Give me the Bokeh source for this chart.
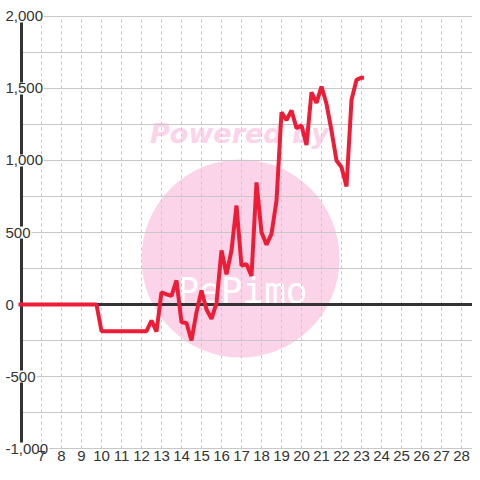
from bokeh.plotting import figure
from bokeh.models import Label, Range1d
from bokeh.core.properties import value
from bokeh.embed import file_html
from bokeh.resources import INLINE

# ---- data (day of month, cumulative value) ----
days = [5.85, 6.25, 6.5, 6.75, 7.0, 7.25, 7.5, 7.75, 8.0, 8.25, 8.5, 8.75,
        9.0, 9.25, 9.5, 9.75, 10.0, 10.25, 10.5, 10.75, 11.0, 11.25, 11.5, 11.75,
        12.0, 12.25, 12.5, 12.75, 13.0, 13.25, 13.5, 13.75, 14.0, 14.25, 14.5, 14.75,
        15.0, 15.25, 15.5, 15.75, 16.0, 16.25, 16.5, 16.75, 17.0, 17.25, 17.5, 17.75,
        18.0, 18.25, 18.5, 18.75, 19.0, 19.25, 19.5, 19.75, 20.0, 20.25, 20.5, 20.75,
        21.0, 21.25, 21.5, 21.75, 22.0, 22.25, 22.5, 22.75, 23.0, 23.125]
values = [0, 0, 0, 0, 0, 0, 0, 0, 0, 0, 0, 0,
          0, 0, 0, 0, -185, -185, -185, -185, -185, -185, -185, -185,
          -185, -185, -111, -188, 85, 70, 60, 167, -123, -128, -250, -55,
          97, -35, -100, 10, 375, 210, 375, 687, 270, 280, 198, 848,
          502, 415, 491, 720, 1335, 1280, 1347, 1225, 1243, 1108, 1474, 1400,
          1514, 1394, 1208, 1000, 953, 820, 1420, 1560, 1575, 1575]

x_ticks = [7, 8, 9, 10, 11, 12, 13, 14, 15, 16, 17, 18, 19, 20, 21, 22, 23, 24, 25, 26, 27, 28]
x_tick_labels = [str(t) for t in x_ticks]
y_label_values = [-1000, -500, 0, 500, 1000, 1500, 2000]
y_label_texts = ["-1,000", "-500", "0", "500", "1,000", "1,500", "2,000"]
y_grid_values = [-1000, -750, -500, -250, 0, 250, 500, 750, 1000, 1250, 1500, 1750, 2000]

X_MIN, X_MAX = 6, 28.55
Y_MIN, Y_MAX = -1000, 2000

TEXT = "#333333"
GRID = "#c8c8c8"
RED = "#ee1c36"
PINK = "#fbd4ea"
FONT = "Liberation Sans"

p = figure(width=472, height=464, output_backend="svg", toolbar_location=None,
           x_range=Range1d(4.95, 28.55), y_range=Range1d(-1111.11, 2111.11),
           x_axis_location=None, y_axis_location=None,
           min_border=0, min_border_left=0, min_border_right=0,
           min_border_top=0, min_border_bottom=0,
           background_fill_color="white", border_fill_color="white",
           outline_line_color=None)
p.grid.visible = False

# watermark (decorative, below grid)
p.circle(x=[16.95], y=[319], radius=99, radius_units="screen",
         fill_color=PINK, line_color=None, level="image")
p.text(x=[16.9], y=[1187], text=["Powered by"], text_font=value("DejaVu Sans"),
       text_font_style="bold italic", text_font_size="27px", text_color=PINK,
       text_align="center", text_baseline="middle", level="image")
p.text(x=[17.05], y=[100], text=["PePimo"], text_font=value("DejaVu Sans Mono"),
       text_font_size="36px", text_color="white",
       text_align="center", text_baseline="middle", level="image")

# grid lines
p.segment(x0=[X_MIN] * len(y_grid_values), y0=y_grid_values,
          x1=[X_MAX] * len(y_grid_values), y1=y_grid_values,
          line_color=GRID, line_width=1, level="underlay")
p.segment(x0=x_ticks, y0=[Y_MIN] * len(x_ticks), x1=x_ticks, y1=[Y_MAX] * len(x_ticks),
          line_color=GRID, line_width=1, line_dash="3 3", level="underlay")

# y axis line and zero line
p.segment(x0=[X_MIN], y0=[Y_MIN], x1=[X_MIN], y1=[Y_MAX], line_color=TEXT, line_width=3)
p.segment(x0=[X_MIN], y0=[0], x1=[X_MAX], y1=[0], line_color=TEXT, line_width=3)

# series
p.line(days, values, line_color=RED, line_width=4)

# y labels drawn over the axis line
for v, t in zip(y_label_values, y_label_texts):
    p.add_layout(Label(x=4, x_units="screen", y=v, y_units="data", text=t,
                       text_align="left", text_baseline="middle",
                       text_font=FONT, text_font_size="15px",
                       text_color=TEXT, background_fill_color="white",
                       padding=1))

# x tick labels
for xt, t in zip(x_ticks, x_tick_labels):
    p.add_layout(Label(x=xt, y=-1050, text=t, text_align="center", text_baseline="middle",
                       text_font=FONT, text_font_size="15px", text_color=TEXT))

open("out.html", "w").write(file_html(p, INLINE))
